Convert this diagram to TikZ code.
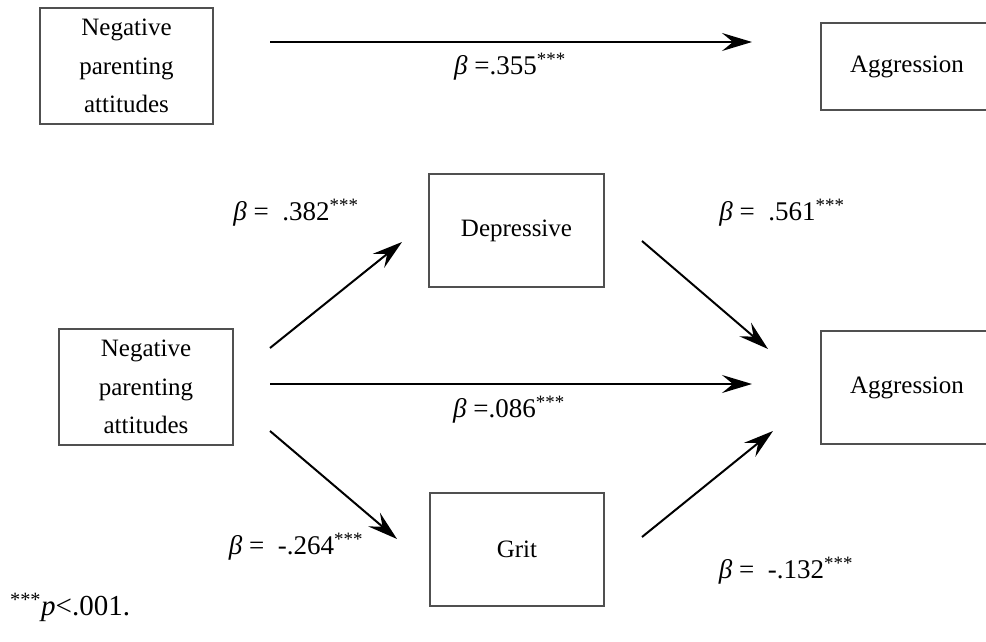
\documentclass[tikz,border=0pt]{standalone}
\usepackage{fontspec}
\setmainfont{Liberation Serif}
\usetikzlibrary{arrows.meta}
\definecolor{boxgray}{HTML}{505050}
\begin{document}
\begin{tikzpicture}[x=1pt,y=-1pt,
  box/.style={draw=boxgray,line width=1.3pt,align=center,inner sep=0pt,
    font=\fontsize{25}{38.5}\selectfont},
  lab/.style={inner sep=0pt,font=\fontsize{27}{30}\selectfont},
  arr/.style={line width=2pt,-{Stealth[length=30pt,width=18pt,inset=11pt]}}]
\useasboundingbox (0,0) rectangle (986,642);
% boxes
\node[box,minimum width=173pt,minimum height=116pt] (npa1) at (126.5,66) {Negative\\parenting\\attitudes};
\node[box,minimum width=172pt,minimum height=87pt] (agg1) at (907,66.5) {Aggression};
\node[box,minimum width=174pt,minimum height=116pt] (npa2) at (146,387) {Negative\\parenting\\attitudes};
\node[box,minimum width=175pt,minimum height=113pt] (dep) at (516.5,230.5) {Depressive};
\node[box,minimum width=174pt,minimum height=113pt] (grit) at (517,549.5) {Grit};
\node[box,minimum width=172pt,minimum height=113pt] (agg2) at (907,387.5) {Aggression};
% arrow end points
\coordinate (t0) at (270,42);  \coordinate (t1) at (752,42);
\coordinate (a0) at (270,348); \coordinate (a1) at (402,242);
\coordinate (c0) at (270,384); \coordinate (c1) at (752,384);
\coordinate (g0) at (270,431); \coordinate (g1) at (397,539);
\coordinate (d0) at (642,241); \coordinate (d1) at (768,349);
\coordinate (r0) at (642,537); \coordinate (r1) at (773,431);
\draw[arr] (t0) -- (t1);
\draw[arr] (a0) -- (a1);
\draw[arr] (c0) -- (c1);
\draw[arr] (g0) -- (g1);
\draw[arr] (d0) -- (d1);
\draw[arr] (r0) -- (r1);
% labels
\node[lab] (l1) at (510,67) {{\itshape β} =.355\textsuperscript{***}};
\node[lab] (l2) at (296,213) {{\itshape β} = \ .382\textsuperscript{***}};
\node[lab] (l3) at (782,213) {{\itshape β} = \ .561\textsuperscript{***}};
\node[lab] (l4) at (509,410) {{\itshape β} =.086\textsuperscript{***}};
\node[lab] (l5) at (296,547) {{\itshape β} = \ -.264\textsuperscript{***}};
\node[lab] (l6) at (786,571) {{\itshape β} = \ -.132\textsuperscript{***}};
\node[lab,anchor=west,font=\fontsize{29}{32}\selectfont] (fn) at (10,607) {\textsuperscript{***}\textit{p}<.001.};
\end{tikzpicture}
\end{document}
